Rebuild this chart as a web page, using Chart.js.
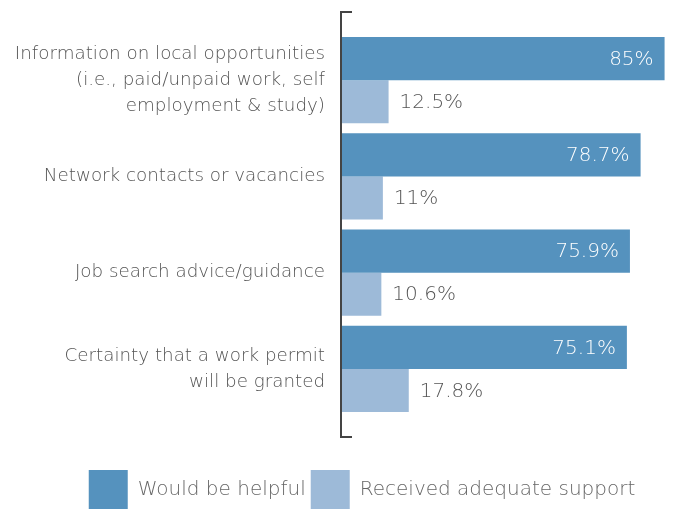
<!DOCTYPE html>
<html>
<head>
<meta charset="utf-8">
<script src="https://cdn.jsdelivr.net/npm/chart.js@4/dist/chart.umd.min.js"></script>
<style>
  html, body { margin: 0; padding: 0; background: #fff; }
  #wrap { width: 678px; height: 510px; }
</style>
</head>
<body>
<div id="wrap"><canvas id="c" width="678" height="510"></canvas></div>
<script>
// Support needs: share saying each kind of help would be useful vs. share who received it
const categories = [
  ['Information on local opportunities', '(i.e., paid/unpaid work, self', 'employment & study)'],
  'Network contacts or vacancies',
  'Job search advice/guidance',
  ['Certainty that a work permit', 'will be granted']
];
const wouldBeHelpful = [85, 78.7, 75.9, 75.1];
const receivedSupport = [12.5, 11, 10.6, 17.8];
const seriesNames = ['Would be helpful', 'Received adequate support'];

const FONT = "'DejaVu Sans', sans-serif";
const DARK = '#5592be';
const LIGHT = '#9dbad8';

// Value labels: inside the end of dark bars, just past the end of light bars
const valueLabels = {
  id: 'valueLabels',
  afterDatasetsDraw(chart) {
    const ctx = chart.ctx;
    ctx.save();
    ctx.font = '200 20px ' + FONT;
    ctx.textBaseline = 'middle';
    chart.data.datasets.forEach((ds, di) => {
      const meta = chart.getDatasetMeta(di);
      meta.data.forEach((bar, i) => {
        const txt = ds.data[i] + '%';
        if (di === 0) {
          ctx.fillStyle = '#ffffff';
          ctx.textAlign = 'right';
          ctx.fillText(txt, bar.x - 11, bar.y + 1);
        } else {
          ctx.fillStyle = '#555555';
          ctx.textAlign = 'left';
          ctx.fillText(txt, bar.x + 11, bar.y + 1);
        }
      });
    });
    ctx.restore();
  }
};

// Bracket-style vertical axis line extending beyond the bars
const axisBracket = {
  id: 'axisBracket',
  afterDraw(chart) {
    const { ctx, chartArea } = chart;
    const x = chartArea.left;
    const top = chartArea.top - 20;
    const bottom = chartArea.bottom + 20;
    ctx.save();
    ctx.strokeStyle = '#444444';
    ctx.lineWidth = 2;
    ctx.beginPath();
    ctx.moveTo(x + 11, top);
    ctx.lineTo(x, top);
    ctx.lineTo(x, bottom);
    ctx.lineTo(x + 11, bottom);
    ctx.stroke();
    ctx.restore();
  }
};

// Nudge the legend row to the right of the canvas centre
const legendShift = {
  id: 'legendShift',
  afterLayout(chart) {
    if (chart.legend) {
      chart.legend.left += 24;
      chart.legend.right += 24;
    }
  }
};

new Chart(document.getElementById('c'), {
  type: 'bar',
  data: {
    labels: categories,
    datasets: [
      { label: seriesNames[0], data: wouldBeHelpful, backgroundColor: DARK, borderWidth: 0 },
      { label: seriesNames[1], data: receivedSupport, backgroundColor: LIGHT, borderWidth: 0 }
    ]
  },
  options: {
    indexAxis: 'y',
    responsive: false,
    animation: false,
    devicePixelRatio: 1,
    layout: { padding: { top: 32, right: 2, left: 0, bottom: -9 } },
    categoryPercentage: 0.896,
    barPercentage: 1.0,
    scales: {
      x: {
        min: 0,
        max: 88,
        grid: { display: false, drawTicks: false },
        border: { display: false },
        ticks: { display: false },
        afterFit(scale) { scale.height = 48; }
      },
      y: {
        grid: { display: false, drawTicks: false },
        border: { display: false },
        ticks: {
          color: '#555555',
          padding: 16,
          font: { family: FONT, size: 18.3, weight: '200', lineHeight: 1.42 }
        },
        afterFit(scale) {
          scale.width = 341;
          scale.paddingTop = 0;
          scale.paddingBottom = 0;
        }
      }
    },
    plugins: {
      legend: {
        position: 'bottom',
        labels: {
          boxWidth: 39,
          boxHeight: 39,
          padding: 5,
          color: '#666666',
          font: { family: FONT, size: 20, weight: '200' }
        }
      },
      tooltip: { enabled: false }
    }
  },
  plugins: [valueLabels, axisBracket, legendShift]
});
</script>
</body>
</html>
